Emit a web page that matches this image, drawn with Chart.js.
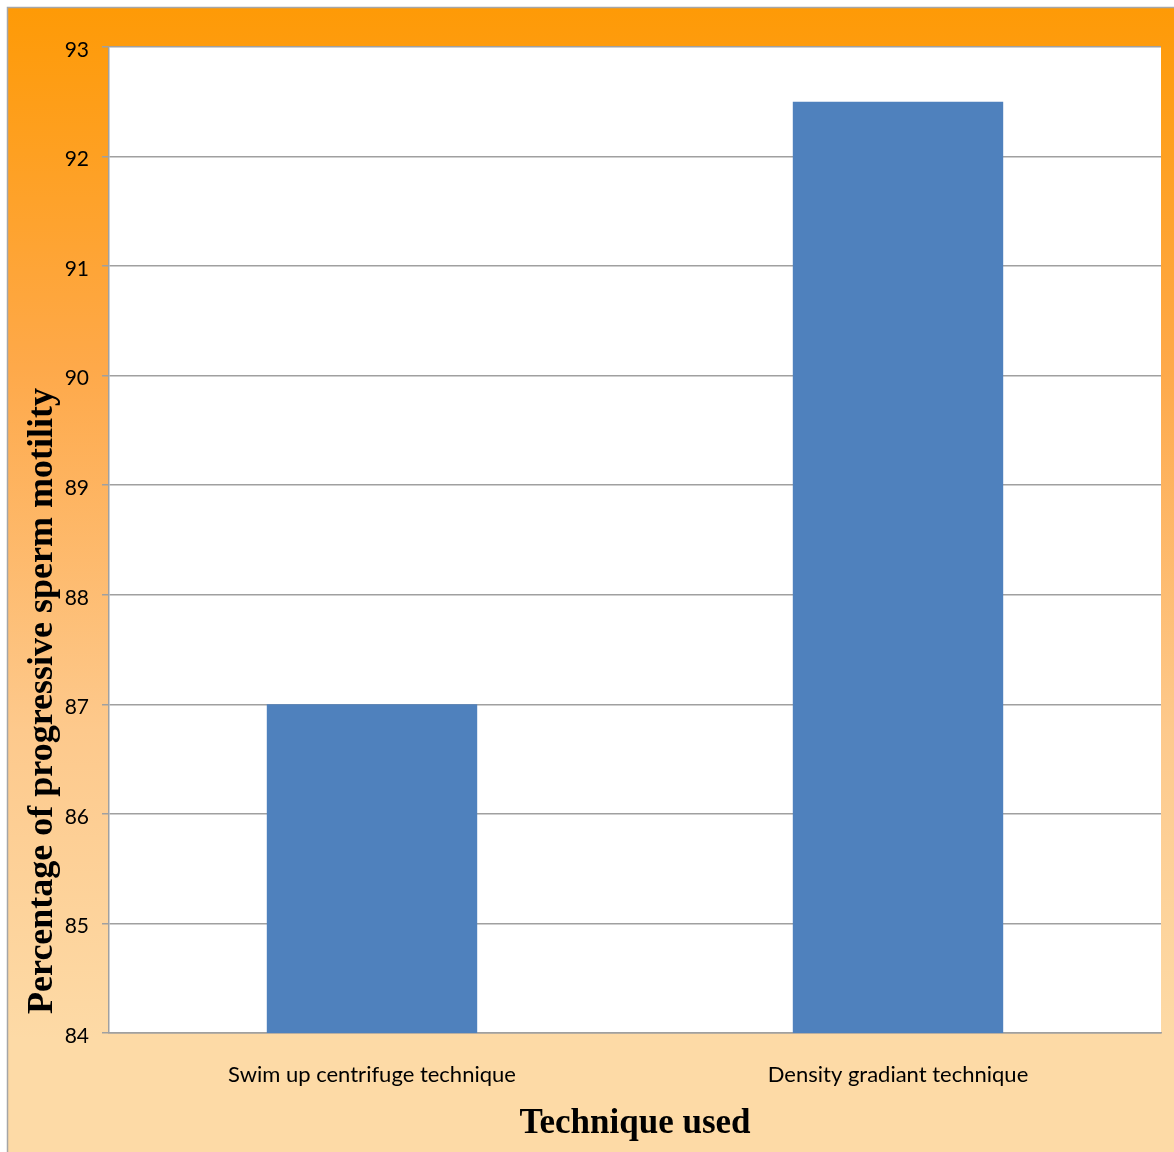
<!DOCTYPE html>
<html><head><meta charset="utf-8">
<script src="https://cdn.jsdelivr.net/npm/chart.js@4/dist/chart.umd.min.js"></script>
<style>html,body{margin:0;padding:0;background:#fff;}#wrap{width:1174px;height:1152px;}</style>
</head><body><div id="wrap"><canvas id="c" width="1174" height="1152"></canvas></div>
<script>
const categories = ["Swim up centrifuge technique", "Density gradiant technique"];
const motility = [87, 92.5];
const yTicks = [84, 85, 86, 87, 88, 89, 90, 91, 92, 93];
const yTitle = "Percentage of progressive sperm motility";
const xTitle = "Technique used";

const bgPlugin = {
  id: 'bg',
  beforeDraw(chart) {
    const ctx = chart.ctx;
    ctx.save();
    const g = ctx.createLinearGradient(0, 7, 0, 1040);
    g.addColorStop(0, '#FE9A06');
    g.addColorStop(0.35, '#FEA94A');
    g.addColorStop(0.7, '#FDC98C');
    g.addColorStop(1, '#FDDAA6');
    ctx.fillStyle = g;
    ctx.fillRect(7, 7, 1167, 1145);
    ctx.strokeStyle = '#A6A6A6';
    ctx.lineWidth = 1.5;
    ctx.beginPath();
    ctx.moveTo(7.5, 1152); ctx.lineTo(7.5, 7.5); ctx.lineTo(1174, 7.5);
    ctx.stroke();
    const a = chart.chartArea;
    ctx.fillStyle = '#FFFFFF';
    ctx.fillRect(a.left, a.top, a.right - a.left, a.bottom - a.top);
    ctx.restore();
  },
  afterDraw(chart) {
    const ctx = chart.ctx;
    const a = chart.chartArea;
    ctx.save();
    ctx.fillStyle = '#000';
    ctx.font = 'bold 36px "Liberation Serif", serif';
    ctx.textAlign = 'center';
    ctx.textBaseline = 'middle';
    ctx.translate(43, 701);
    ctx.rotate(-Math.PI / 2);
    ctx.fillText(yTitle, 0, 0);
    ctx.restore();
    ctx.save();
    ctx.fillStyle = '#000';
    ctx.font = 'bold 35px "Liberation Serif", serif';
    ctx.textAlign = 'center';
    ctx.textBaseline = 'middle';
    ctx.fillText(xTitle, (a.left + a.right) / 2, 1124);
    ctx.restore();
  }
};

new Chart(document.getElementById('c'), {
  type: 'bar',
  data: {
    labels: categories,
    datasets: [{
      data: motility,
      backgroundColor: '#4F81BD',
      borderWidth: 0,
      barPercentage: 0.4,
      categoryPercentage: 1.0
    }]
  },
  options: {
    responsive: false,
    animation: false,
    devicePixelRatio: 1,
    layout: { padding: { left: 0, top: 47, right: 13, bottom: 0 } },
    plugins: { legend: { display: false }, tooltip: { enabled: false } },
    scales: {
      x: {
        grid: { display: false, drawTicks: false },
        border: { display: true, color: '#A0A0A0', width: 1.5 },
        ticks: { color: '#000', font: { family: 'Lato, "Noto Sans", sans-serif', size: 22 }, padding: 29, maxRotation: 0 },
        afterFit(s) { s.height = 119; }
      },
      y: {
        min: 84, max: 93,
        afterBuildTicks(s) { s.ticks = yTicks.map(v => ({ value: v })); },
        grid: { color: '#A0A0A0', lineWidth: 1.5, tickLength: 7 },
        border: { display: true, color: '#A0A0A0', width: 1.5 },
        ticks: { color: '#000', font: { family: 'Lato, "Noto Sans", sans-serif', size: 21 }, padding: 13, labelOffset: 3 },
        afterFit(s) { s.width = 109; }
      }
    }
  },
  plugins: [bgPlugin]
});
</script>
</body></html>
